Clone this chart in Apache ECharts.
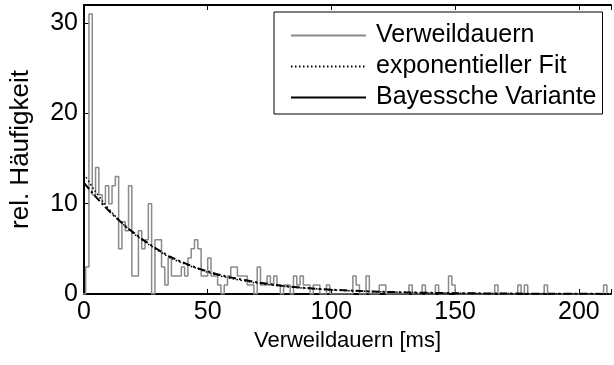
<!DOCTYPE html>
<html><head><meta charset="utf-8">
<script src="https://cdn.jsdelivr.net/npm/echarts@6/dist/echarts.min.js"></script>
<style>html,body{margin:0;padding:0;background:#fff}#c{width:614px;height:365px}</style>
</head><body><div id="c"></div>
<script>
// ---- data ----
const binWidth = 4 / 3; // ms per histogram bin
const histValues = [
  0, 3, 31, 11, 14, 11, 10, 12, 10, 12,
  13, 5, 8, 7, 12, 2, 2, 7, 5, 6,
  10, 0, 6, 6, 3, 1, 4, 2, 2, 2,
  3, 2, 4, 5, 6, 5, 2, 2, 4, 2,
  2, 1, 0, 1, 2, 3, 3, 2, 2, 2,
  1, 1, 0, 3, 1, 1, 2, 1, 2, 1,
  0, 1, 1, 0, 2, 1, 2, 1, 1, 0,
  1, 1, 0, 0, 1, 0, 0, 0, 0, 0,
  0, 0, 2, 1, 0, 0, 2, 0, 0, 0,
  1, 1, 0, 0, 0, 0, 0, 0, 0, 1,
  0, 0, 0, 1, 0, 0, 0, 1, 0, 0,
  0, 2, 1, 0, 0, 0, 0, 0, 0, 0,
  0, 0, 0, 0, 0, 1, 0, 0, 0, 0,
  0, 0, 1, 0, 1, 0, 0, 0, 0, 0,
  1, 0, 0, 0, 0, 0, 0, 0, 0, 0,
  0, 0, 0, 0, 0, 0, 0, 0, 1, 0
];
const fitTimes      = [0, 4, 8, 12, 16, 20, 25, 30, 35, 40, 45, 50, 55, 60, 70, 80, 90, 100, 110, 120, 130, 140, 150, 160, 170, 180, 190, 200, 213];
const expFitValues  = [13.3, 11.6, 10.1, 8.8, 7.7, 6.7, 5.7, 4.8, 4.0, 3.4, 2.9, 2.4, 2.0, 1.7, 1.2, 0.88, 0.63, 0.45, 0.33, 0.24, 0.17, 0.12, 0.09, 0.06, 0.045, 0.03, 0.023, 0.016, 0.011];
const bayesValues   = [12.3, 11.0, 9.8, 8.7, 7.7, 6.8, 5.8, 4.9, 4.1, 3.5, 2.95, 2.5, 2.1, 1.8, 1.3, 0.92, 0.66, 0.48, 0.35, 0.25, 0.18, 0.13, 0.095, 0.07, 0.05, 0.035, 0.025, 0.018, 0.012];
const xTicks = [0, 50, 100, 150, 200];
const yTicks = [0, 10, 20, 30];
const seriesNames = ['Verweildauern', 'exponentieller Fit', 'Bayessche Variante'];
const xTitle = 'Verweildauern [ms]';
const yTitle = 'rel. Häufigkeit';

// ---- build ----
const histData = histValues.map((v, k) => [(k - 0.5) * binWidth, v]);
histData.push([(histValues.length - 0.5) * binWidth, histValues[histValues.length - 1]]);
const fitData = fitTimes.map((t, i) => [t, expFitValues[i]]);
const bayesData = fitTimes.map((t, i) => [t, bayesValues[i]]);

const FONT = "'Liberation Sans', Arial, Helvetica, sans-serif";
const axLine = { show: true, onZero: false, lineStyle: { color: '#000', width: 2 } };
const axTick = { show: true, inside: true, length: 5, lineStyle: { color: '#000', width: 1 } };
const hiddenSymbol = { opacity: 0, color: 'rgba(0,0,0,0)', borderWidth: 0 };

const chart = echarts.init(document.getElementById('c'), null, { renderer: 'canvas' });
chart.setOption({
  animation: false,
  backgroundColor: '#fff',
  textStyle: { fontFamily: FONT },
  grid: { left: 84, right: 0, top: 5, bottom: 71, containLabel: false },
  xAxis: [
    { type: 'value', min: 0, max: 213, interval: 50, position: 'bottom',
      axisLine: axLine, axisTick: axTick, splitLine: { show: false },
      axisLabel: { fontSize: 25, color: '#000', fontFamily: FONT, margin: 6,
        formatter: v => xTicks.includes(v) ? String(v) : '' },
      name: xTitle, nameLocation: 'middle', nameGap: 36,
      nameTextStyle: { fontSize: 22, color: '#000', fontFamily: FONT } },
    { type: 'value', min: 0, max: 213, interval: 50, position: 'top',
      axisLine: axLine, axisTick: axTick, splitLine: { show: false },
      axisLabel: { show: false } }
  ],
  yAxis: [
    { type: 'value', min: 0, max: 32, interval: 10, position: 'left',
      axisLine: axLine, axisTick: axTick, splitLine: { show: false },
      axisLabel: { fontSize: 25, color: '#000', fontFamily: FONT, margin: 6,
        formatter: v => yTicks.includes(v) ? String(v) : '' },
      name: yTitle, nameLocation: 'middle', nameGap: 50, nameRotate: 90,
      nameTextStyle: { fontSize: 26, color: '#000', fontFamily: FONT } }
  ],
  legend: {
    orient: 'vertical', left: 274, top: 12,
    padding: [11, 6, 4, 16], itemGap: 6, itemWidth: 75, itemHeight: 14,
    backgroundColor: '#fff', borderColor: '#000', borderWidth: 1, borderRadius: 0,
    itemStyle: hiddenSymbol,
    textStyle: { fontSize: 25, color: '#000', fontFamily: FONT, padding: [0, 0, 0, 5] },
    data: [
      { name: seriesNames[0], itemStyle: hiddenSymbol },
      { name: seriesNames[1], itemStyle: hiddenSymbol },
      { name: seriesNames[2], itemStyle: hiddenSymbol, lineStyle: { type: 'solid' } }
    ]
  },
  series: [
    { name: seriesNames[0], type: 'line', step: 'end', data: histData, symbol: 'none',
      lineStyle: { color: '#8a8a8a', width: 1.5 }, itemStyle: { color: '#8a8a8a' }, z: 2 },
    { name: seriesNames[1], type: 'line', data: fitData, symbol: 'none', smooth: 0.3,
      lineStyle: { color: '#000', width: 1.5, type: [1.5, 2.5] }, itemStyle: { color: '#000' }, z: 3 },
    { name: seriesNames[2], type: 'line', data: bayesData, symbol: 'none', smooth: 0.3,
      lineStyle: { color: '#000', width: 2, type: [8, 3, 2, 3] }, itemStyle: { color: '#000' }, z: 4 }
  ]
});
</script></body></html>
